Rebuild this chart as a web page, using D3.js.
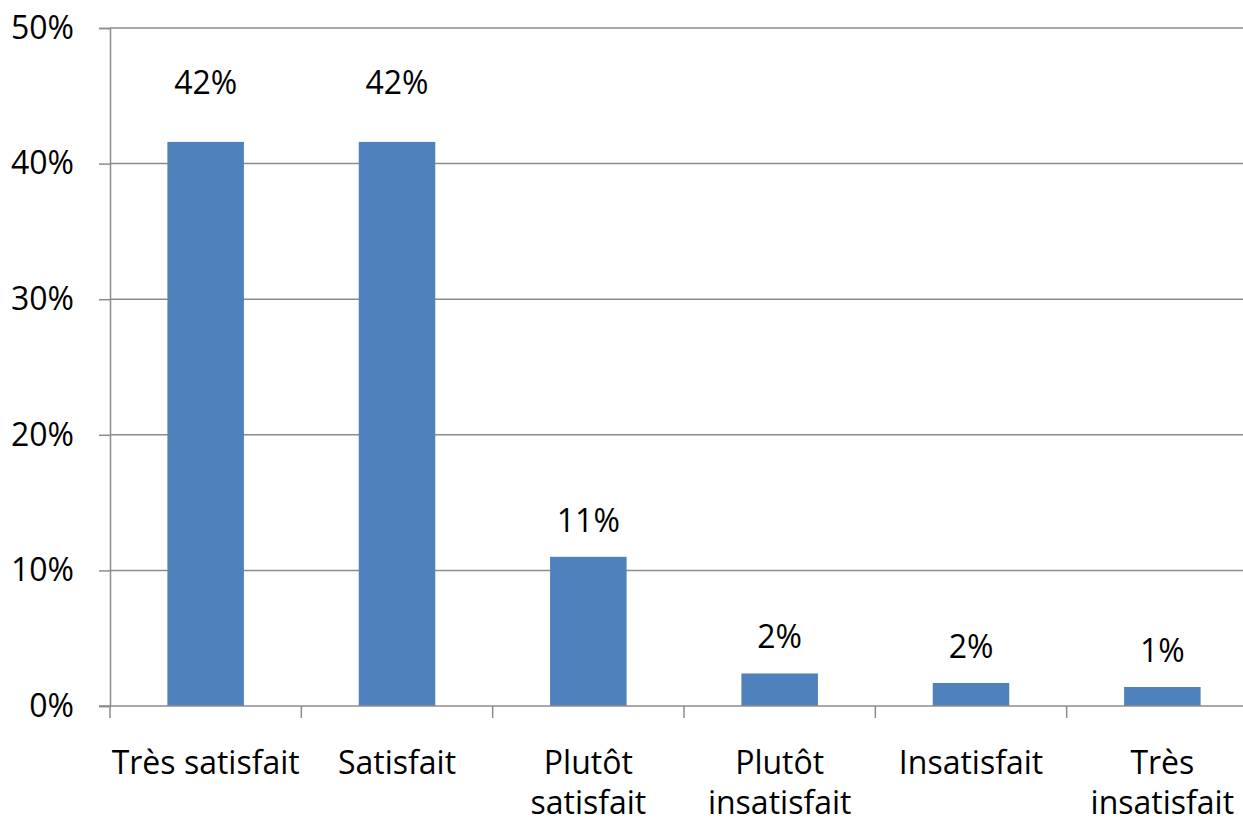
<!DOCTYPE html>
<html>
<head>
<meta charset="utf-8">
<script src="https://cdn.jsdelivr.net/npm/d3@7"></script>
<style>
  body { margin: 0; background: #fff; }
  svg { display: block; }
</style>
</head>
<body>
<svg id="chart" width="1243" height="825"></svg>
<script>
// categories and values (share of answers)
var categories = ['Très satisfait', 'Satisfait', 'Plutôt satisfait', 'Plutôt insatisfait', 'Insatisfait', 'Très insatisfait'];
var categoryLines = [['Très satisfait'], ['Satisfait'], ['Plutôt', 'satisfait'], ['Plutôt', 'insatisfait'], ['Insatisfait'], ['Très', 'insatisfait']];
var values = [0.416, 0.416, 0.110, 0.024, 0.017, 0.014];
var yTicks = [0, 0.1, 0.2, 0.3, 0.4, 0.5];

var fontFamily = '"Open Sans", Calibri, sans-serif';
var fontSize = 32;

var width = 1243,
    height = 825,
    margin = {top: 28, right: -15, bottom: 119, left: 110};

var svg = d3.select('#chart');

var xBand = d3.scaleBand()
  .domain(categories)
  .range([margin.left, width - margin.right]);

var xBar = d3.scaleBand()
  .domain(categories)
  .range([margin.left, width - margin.right])
  .paddingInner(0.6)
  .paddingOuter(0.3);

var yScale = d3.scaleLinear()
  .domain([0, 0.5])
  .range([height - margin.bottom, margin.top]);

// gridlines
svg.append('g')
  .selectAll('line')
  .data(yTicks.slice(1))
  .join('line')
  .attr('x1', margin.left)
  .attr('x2', width)
  .attr('y1', function(d){ return yScale(d); })
  .attr('y2', function(d){ return yScale(d); })
  .attr('stroke', '#8c8c8c')
  .attr('stroke-width', 1.5);

// y axis
var yAxis = d3.axisLeft(yScale)
  .tickValues(yTicks)
  .tickFormat(d3.format('.0%'))
  .tickSize(11)
  .tickPadding(25);

var gy = svg.append('g')
  .attr('transform', `translate(${margin.left}, 0)`)
  .call(yAxis);
gy.select('.domain').attr('stroke', '#8c8c8c').attr('stroke-width', 1.5);
gy.selectAll('.tick line').attr('stroke', '#8c8c8c').attr('stroke-width', 1.5);
gy.attr('font-family', fontFamily).attr('font-size', fontSize);
gy.selectAll('.tick text').attr('fill', '#000');

// bars
svg.append('g')
  .selectAll('rect')
  .data(values)
  .join('rect')
  .attr('x', function(d, i){ return xBar(categories[i]); })
  .attr('width', xBar.bandwidth())
  .attr('y', function(d){ return yScale(d); })
  .attr('height', function(d){ return yScale(0) - yScale(d); })
  .attr('fill', '#4f81bd');

// x axis baseline and ticks
var baseY = yScale(0);
svg.append('line')
  .attr('x1', margin.left - 11)
  .attr('x2', width)
  .attr('y1', baseY)
  .attr('y2', baseY)
  .attr('stroke', '#8c8c8c')
  .attr('stroke-width', 1.5);

svg.append('g')
  .selectAll('line')
  .data(categories)
  .join('line')
  .attr('x1', function(d){ return xBand(d); })
  .attr('x2', function(d){ return xBand(d); })
  .attr('y1', baseY)
  .attr('y2', baseY + 12)
  .attr('stroke', '#8c8c8c')
  .attr('stroke-width', 1.5);

// category labels
var labels = svg.append('g')
  .attr('font-family', fontFamily)
  .attr('font-size', fontSize)
  .selectAll('text')
  .data(categoryLines)
  .join('text')
  .attr('text-anchor', 'middle')
  .attr('fill', '#000')
  .attr('transform', function(d, i){
    return `translate(${xBand(categories[i]) + xBand.bandwidth()/2}, ${baseY + 68})`;
  });

labels.selectAll('tspan')
  .data(function(d){ return d; })
  .join('tspan')
  .attr('x', 0)
  .attr('dy', function(d, i){ return i === 0 ? 0 : 40; })
  .text(function(d){ return d; });

// value labels; the tall bars get theirs lifted near the top of the plot
svg.append('g')
  .attr('font-family', fontFamily)
  .attr('font-size', fontSize)
  .selectAll('text')
  .data(values)
  .join('text')
  .attr('text-anchor', 'middle')
  .attr('fill', '#000')
  .attr('x', function(d, i){ return xBar(categories[i]) + xBar.bandwidth()/2; })
  .attr('y', function(d){ return d > 0.4 ? yScale(0.451) : yScale(d) - 25; })
  .text(function(d){ return d3.format('.0%')(d); });
</script>
</body>
</html>
